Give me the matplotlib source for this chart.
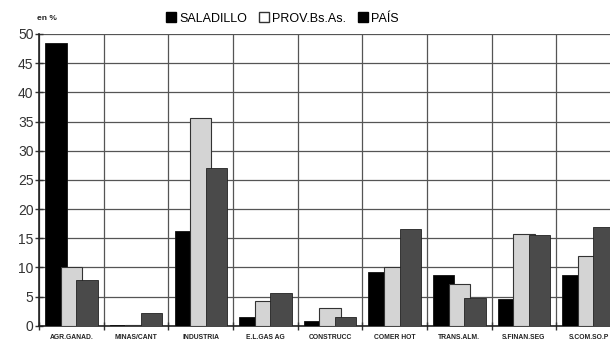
import numpy as np
import matplotlib.pyplot as plt
from matplotlib.patches import Patch

plt.rcParams['font.family'] = ['Liberation Sans', 'DejaVu Sans']

categories = ['AGR.GANAD.', 'MINAS/CANT', 'INDUSTRIA', 'E.L.GAS AG', 'CONSTRUCC',
              'COMER HOT', 'TRANS.ALM.', 'S.FINAN.SEG', 'S.COM.SO.P']
saladillo = [48.4, 0.1, 16.3, 1.5, 0.8, 9.2, 8.7, 4.6, 8.7]
provincia = [10.1, 0.2, 35.6, 4.3, 3.1, 10.1, 7.2, 15.8, 12.0]
pais = [7.8, 2.2, 27.1, 5.6, 1.6, 16.6, 4.8, 15.6, 16.9]
series_names = ['SALADILLO', 'PROV.Bs.As.', 'PAÍS']

fig = plt.figure(figsize=(6.1, 3.5), dpi=100)
ax = fig.add_axes([0.064, 0.069, 0.954, 0.834])

x = np.arange(len(categories))
w = 0.33
step = 0.24
ax.bar(x - step, saladillo, w, color='black', edgecolor='#111111', linewidth=0.6, zorder=3)
ax.bar(x, provincia, w, color='#d4d4d4', edgecolor='#333333', linewidth=0.8, zorder=3)
ax.bar(x + step, pais, w, color='#4a4a4a', edgecolor='#222222', linewidth=0.6, zorder=3)

ax.set_xlim(-0.5, len(categories) - 0.5)
ax.set_ylim(0, 50)
ax.set_yticks(range(0, 51, 5))
ax.set_xticks(np.arange(len(categories) + 1) - 0.5)
ax.set_xticklabels([])
ax.set_xticks(x, minor=True)
ax.set_xticklabels(categories, minor=True, fontsize=4.9, fontweight='bold', color='#222222')
ax.tick_params(axis='x', which='minor', length=0, pad=6)
ax.tick_params(axis='x', which='major', direction='inout', length=6, width=1, color='#333333')
ax.tick_params(axis='y', direction='inout', length=6, width=1, color='#333333',
               labelsize=10, labelcolor='#333333', pad=1)

ax.grid(True, which='major', color='#555555', linewidth=0.9, zorder=0)
for s in ['top', 'right']:
    ax.spines[s].set_visible(False)
ax.spines['left'].set_color('#222222')
ax.spines['left'].set_linewidth(1.2)
ax.spines['bottom'].set_color('#222222')
ax.spines['bottom'].set_linewidth(1.2)

handles = [Patch(facecolor='black', edgecolor='black'),
           Patch(facecolor='white', edgecolor='#333333'),
           Patch(facecolor='black', edgecolor='black')]
fig.legend(handles, series_names, loc='center', bbox_to_anchor=(0.463, 0.947), ncol=3,
           frameon=False, fontsize=9, handlelength=0.8, handleheight=0.8,
           handletextpad=0.2, columnspacing=1.0)
fig.text(0.06, 0.947, 'en %', fontsize=6, fontweight='bold', color='#222222', va='center')

fig.savefig('out.png', dpi=100)
